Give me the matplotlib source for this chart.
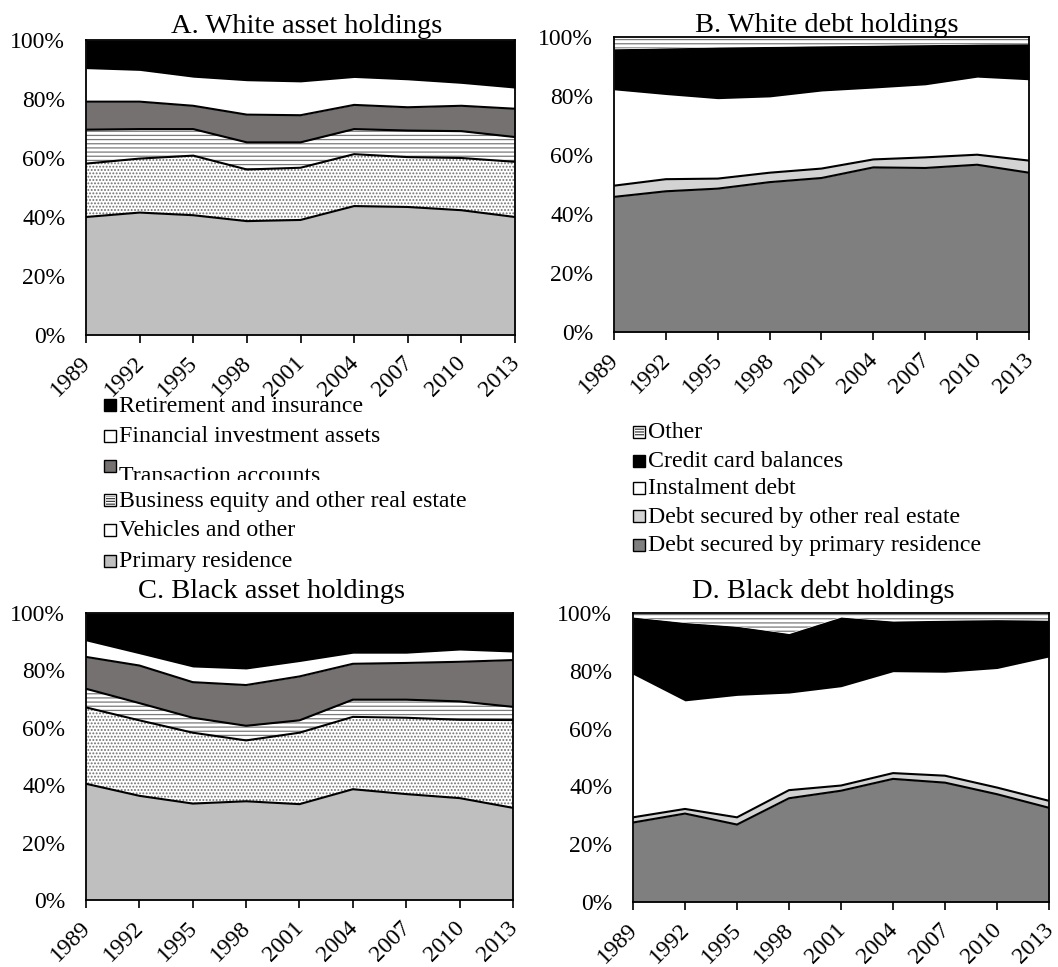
import matplotlib
matplotlib.use("Agg")
import matplotlib.pyplot as plt
from matplotlib.patches import Rectangle
from matplotlib.transforms import Bbox, TransformedBbox, ScaledTranslation
from matplotlib.ticker import FuncFormatter
import numpy as np

plt.rcParams['font.family'] = ['Liberation Serif', 'DejaVu Serif']
plt.rcParams['hatch.linewidth'] = 0.9

years = [1989, 1992, 1995, 1998, 2001, 2004, 2007, 2010, 2013]

# Asset composition (% of total assets), bottom to top
asset_labels = ["Primary residence", "Vehicles and other",
                "Business equity and other real estate", "Transaction accounts",
                "Financial investment assets", "Retirement and insurance"]
white_primary = [40.0, 41.5, 40.6, 38.6, 39.0, 43.7, 43.4, 42.3, 40.0]
white_vehicles = [18.1, 18.3, 20.2, 17.5, 17.7, 17.6, 16.9, 17.7, 18.7]
white_business = [11.5, 10.0, 9.0, 9.2, 8.6, 8.5, 9.0, 9.1, 8.4]
white_transaction = [9.5, 9.3, 7.9, 9.4, 9.2, 8.2, 7.9, 8.6, 9.6]
white_financial = [11.2, 10.6, 9.7, 11.5, 11.3, 9.3, 9.3, 7.6, 7.0]
white_retirement = [9.7, 10.3, 12.6, 13.8, 14.2, 12.7, 13.5, 14.7, 16.3]

black_primary = [40.5, 36.3, 33.6, 34.4, 33.4, 38.6, 36.9, 35.5, 32.1]
black_vehicles = [26.6, 26.3, 24.7, 21.2, 24.9, 25.2, 26.6, 27.3, 30.6]
black_business = [6.5, 6.0, 5.2, 5.1, 4.3, 6.0, 6.3, 6.4, 4.6]
black_transaction = [11.1, 13.1, 12.4, 14.2, 15.3, 12.5, 12.8, 13.8, 16.3]
black_financial = [5.6, 4.1, 5.3, 5.6, 5.2, 3.7, 3.4, 4.1, 2.8]
black_retirement = [9.7, 14.2, 18.8, 19.5, 16.9, 14.0, 14.0, 12.9, 13.6]

# Debt composition (% of total debt), bottom to top
debt_labels = ["Debt secured by primary residence", "Debt secured by other real estate",
               "Instalment debt", "Credit card balances", "Other"]
white_debt_primary = [45.8, 47.7, 48.6, 50.8, 52.2, 55.8, 55.6, 56.7, 54.0]
white_debt_other_re = [3.8, 4.1, 3.4, 3.2, 3.2, 2.7, 3.6, 3.4, 4.1]
white_debt_instalment = [32.5, 28.7, 27.1, 25.7, 26.3, 24.2, 24.6, 26.3, 27.4]
white_debt_credit = [13.9, 15.8, 17.5, 17.1, 15.3, 14.5, 13.6, 11.2, 12.2]
white_debt_other = [4.0, 3.7, 3.4, 3.2, 3.0, 2.8, 2.6, 2.4, 2.3]

black_debt_primary = [27.5, 30.6, 26.8, 35.9, 38.5, 42.6, 41.3, 37.3, 32.6]
black_debt_other_re = [1.8, 1.6, 2.5, 2.8, 1.8, 2.0, 2.4, 2.3, 2.4]
black_debt_instalment = [49.5, 37.4, 42.2, 33.6, 34.2, 35.1, 35.8, 41.2, 49.8]
black_debt_credit = [19.8, 27.1, 23.9, 20.6, 24.1, 17.5, 18.0, 16.9, 12.7]
black_debt_other = [1.4, 3.3, 4.6, 7.1, 1.4, 2.8, 2.5, 2.3, 2.5]

# (face colour, hatch, hatch colour, outline on top edge)
asset_styles = [
    ("#BFBFBF", None, "#BFBFBF", True),
    ("white", ".....", "#707070", True),
    ("white", "----", "#7a7a7a", True),
    ("#767171", None, "#767171", True),
    ("white", None, "white", False),
    ("black", None, "black", False),
]
debt_styles = [
    ("#7F7F7F", None, "#7F7F7F", True),
    ("#D3D3D3", None, "#D3D3D3", True),
    ("white", None, "white", False),
    ("black", None, "black", False),
    ("white", "----", "#7a7a7a", False),
]

FS_TICK = 17
FS_TITLE = 20.5
FS_LEG = 17.2

W, H = 1058, 967
fig = plt.figure(figsize=(W / 100, H / 100), dpi=100)
# year labels sit just below the x ticks, nudged slightly left
year_offset = ScaledTranslation(-6 / 100, -17 / 100, fig.dpi_scale_trans)


def px_axes(left, top, right, bottom):
    return fig.add_axes([left / W, 1 - bottom / H, (right - left) / W, (bottom - top) / H])


def stacked(ax, layers, styles):
    x = np.array(years, dtype=float)
    base = np.zeros(len(years))
    tops = []
    for vals, (fc, hatch, hc, outline) in zip(layers, styles):
        top = base + np.array(vals, dtype=float)
        ax.fill_between(x, base, top, facecolor=fc, edgecolor=hc, hatch=hatch,
                        linewidth=0, zorder=1)
        tops.append((top, outline))
        base = top
    for top, outline in tops:
        if outline:
            ax.plot(x, top, color="black", lw=1.5, zorder=3, solid_joinstyle="miter")
    ax.set_xlim(years[0], years[-1])
    ax.set_ylim(0, 100)
    ax.set_xticks(years)
    ax.set_xticklabels([])
    tr = ax.get_xaxis_transform() + year_offset
    for y in years:
        ax.text(y, 0, str(y), transform=tr, rotation=45, ha="right", va="top",
                rotation_mode="anchor", fontsize=FS_TICK, clip_on=False)
    ax.set_yticks([0, 20, 40, 60, 80, 100])
    ax.yaxis.set_major_formatter(FuncFormatter(lambda v, p: f"{int(v)}%"))
    ax.tick_params(axis="y", length=0, pad=15, labelsize=FS_TICK)
    ax.tick_params(axis="x", length=6, width=1.2, direction="out", pad=4)
    for s in ax.spines.values():
        s.set_linewidth(1.3)
        s.set_zorder(5)


axA = px_axes(86, 40, 515, 335)
stacked(axA, [white_primary, white_vehicles, white_business, white_transaction,
              white_financial, white_retirement], asset_styles)
axB = px_axes(614, 37, 1029, 332)
stacked(axB, [white_debt_primary, white_debt_other_re, white_debt_instalment,
              white_debt_credit, white_debt_other], debt_styles)
axC = px_axes(86, 613, 513, 900)
stacked(axC, [black_primary, black_vehicles, black_business, black_transaction,
              black_financial, black_retirement], asset_styles)
axD = px_axes(633, 613, 1049, 902)
stacked(axD, [black_debt_primary, black_debt_other_re, black_debt_instalment,
              black_debt_credit, black_debt_other], debt_styles)

# Panel titles
for txt, cx, by in [("A. White asset holdings", 307, 33),
                    ("B. White debt holdings", 827, 32),
                    ("C. Black asset holdings", 272, 598),
                    ("D. Black debt holdings", 823, 598)]:
    fig.text(cx / W, 1 - by / H, txt, ha="center", va="baseline", fontsize=FS_TITLE)


def legend_entry(x, yc, label, fc, hatch, hc, text_dy=0, clip_bottom=None):
    size = 12
    rect = Rectangle(((x) / W, 1 - (yc + size / 2) / H), size / W, size / H,
                     transform=fig.transFigure, facecolor=fc, edgecolor="black",
                     lw=1.0, zorder=10)
    fig.add_artist(rect)
    if hatch:
        hr = Rectangle(((x + 1.5) / W, 1 - (yc + size / 2 - 1.5) / H), (size - 3) / W,
                       (size - 3) / H, transform=fig.transFigure, facecolor="none",
                       edgecolor=hc, hatch=hatch, lw=0, zorder=11)
        fig.add_artist(hr)
    t = fig.text((x + size + 3) / W, 1 - (yc + 1 + text_dy) / H, label, ha="left",
                 va="center", fontsize=FS_LEG)
    if clip_bottom is not None:
        bb = TransformedBbox(Bbox.from_extents(0, 1 - clip_bottom / H, 1, 1),
                             fig.transFigure)
        t.set_clip_box(bb)
        t.set_clip_on(True)


# Asset legend (listed top layer first)
asset_rows = [
    (405, 5, 0, None),
    (436, 4, 0, None),
    (466, 3, 9, 480),
    (500, 2, 0, None),
    (530, 1, 0, None),
    (561, 0, 0, None),
]
for yc, idx, dy, clip in asset_rows:
    fc, hatch, hc, _ = asset_styles[idx]
    if idx == 1:
        hatch, hc = ":", "#606060"
    if idx == 2:
        hatch, hc = "------", "#404040"
    legend_entry(104, yc, asset_labels[idx], fc, hatch, hc, dy, clip)

# Debt legend
debt_rows = [(432, 4), (461, 3), (488, 2), (516, 1), (545, 0)]
for yc, idx in debt_rows:
    fc, hatch, hc, _ = debt_styles[idx]
    if idx == 4:
        hatch, hc = "------", "#404040"
    legend_entry(633, yc, debt_labels[idx], fc, hatch, hc)

fig.savefig("out.png", dpi=100)
